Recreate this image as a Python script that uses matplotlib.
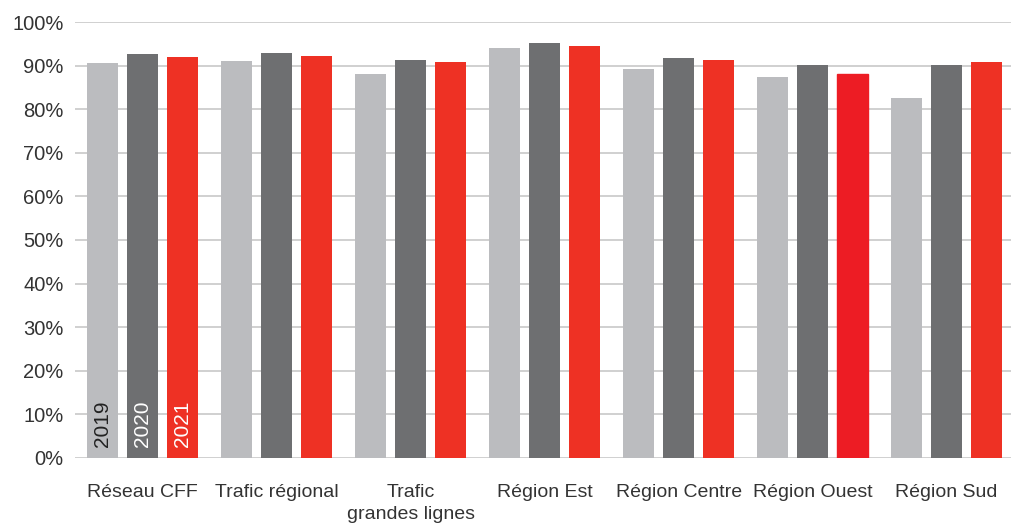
import matplotlib.pyplot as plt
import numpy as np

plt.rcParams['font.family'] = ['Liberation Sans', 'DejaVu Sans']

categories = ['Réseau CFF', 'Trafic régional', 'Trafic\ngrandes lignes', 'Région Est',
              'Région Centre', 'Région Ouest', 'Région Sud']
years = ['2019', '2020', '2021']
values_2019 = [90.5, 91.0, 88.0, 94.0, 89.2, 87.5, 82.5]
values_2020 = [92.6, 92.8, 91.2, 95.3, 91.7, 90.1, 90.1]
values_2021 = [91.9, 92.1, 90.8, 94.4, 91.4, 88.0, 90.8]

colors = ['#bbbcbf', '#6e6f71', '#ee3124']
text_colors = ['#222222', 'white', 'white']

fig = plt.figure(figsize=(10.11, 5.25), dpi=100)
ax = fig.add_axes([0.074, 0.128, 0.926, 0.83])

x = np.arange(len(categories))
offset = 0.3
width = 0.232
series = [values_2019, values_2020, values_2021]
for k, vals in enumerate(series):
    bars = ax.bar(x + (k - 1) * offset, vals, width, color=colors[k], zorder=3)
    if k == 2:
        # Région Ouest 2021 is drawn in a slightly deeper red
        bars[5].set_color('#ed1c24')
    # year label inside the first group's bar
    ax.text(x[0] + (k - 1) * offset, 2.4, years[k], rotation=90, ha='center', va='bottom',
            color=text_colors[k], fontsize=15, zorder=4)

ax.set_ylim(0, 100)
ax.set_xlim(-0.505, 6.48)
ax.set_yticks(np.arange(0, 101, 10))
ax.set_yticklabels([f'{v}%' for v in range(0, 101, 10)])
ax.set_xticks(x)
ax.set_xticklabels(categories, linespacing=1.4)
ax.tick_params(axis='y', length=0, pad=8, labelsize=14.5, labelcolor='#333333')
ax.tick_params(axis='x', length=0, pad=19, labelsize=14, labelcolor='#333333')
for lbl in ax.get_xticklabels():
    lbl.set_verticalalignment('top')

ax.grid(axis='y', color='#d0d0d0', linewidth=1.4, zorder=0)
for s in ax.spines.values():
    s.set_visible(False)

fig.savefig('out.png', dpi=100)
